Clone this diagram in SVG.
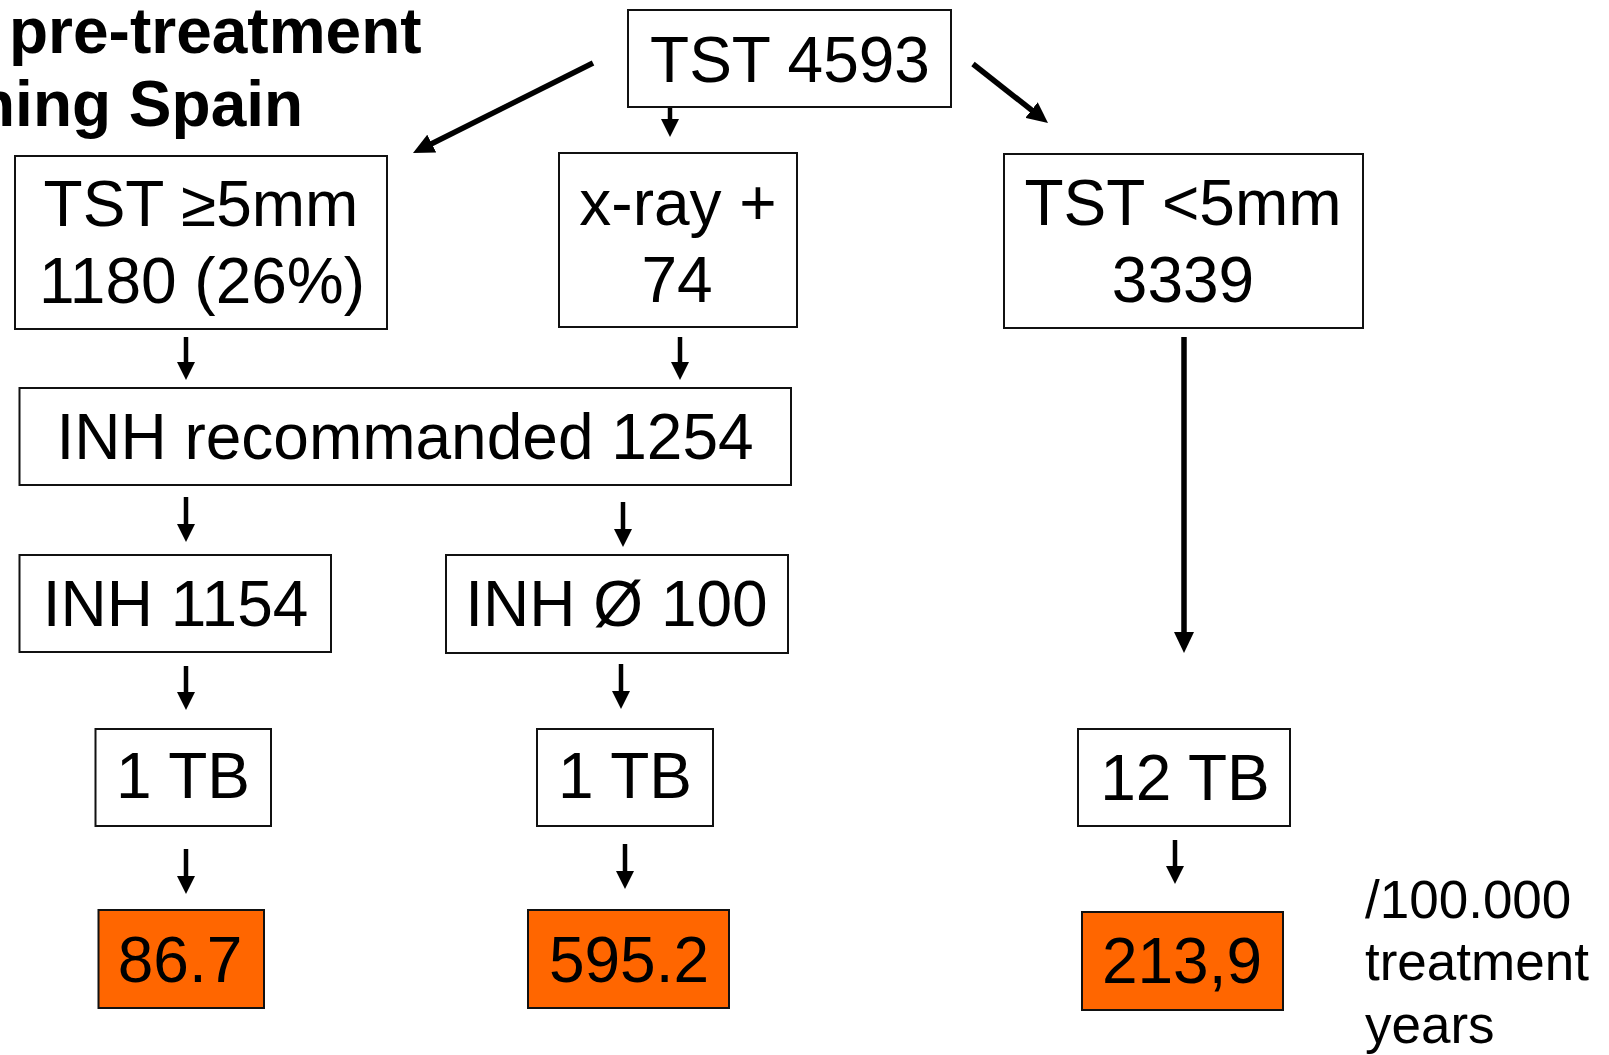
<svg xmlns="http://www.w3.org/2000/svg" width="1609" height="1055" viewBox="0 0 1609 1055">
  <style>
    .box { fill: #ffffff; stroke: #111111; stroke-width: 2; }
    .rate { fill: #ff6600; stroke: #111111; stroke-width: 2; }
    .lbl { font-family: "Liberation Sans", Arial, sans-serif; font-size: 64px; fill: #000000; text-anchor: middle; }
    .title { font-family: "Liberation Sans", Arial, sans-serif; font-size: 64px; font-weight: bold; fill: #000000; }
    .note { font-family: "Liberation Sans", Arial, sans-serif; font-size: 53px; fill: #000000; }
    .arrow { stroke: #000000; stroke-width: 4.5; fill: none; marker-end: url(#head); }
    .arrow.heavy { stroke-width: 5.5; marker-end: url(#head-lg); }
  </style>
  <defs>
    <marker id="head" markerUnits="userSpaceOnUse" markerWidth="18" markerHeight="18" refX="6" refY="9" orient="auto">
      <path d="M0,0 L18,9 L0,18 z" fill="#000000"/>
    </marker>
    <marker id="head-lg" markerUnits="userSpaceOnUse" markerWidth="21" markerHeight="20" refX="8" refY="10" orient="auto">
      <path d="M0,0 L21,10 L0,20 z" fill="#000000"/>
    </marker>
  </defs>

  <rect width="1609" height="1055" fill="#ffffff"/>

  <!-- heading, partly running off the left edge -->
  <g id="heading">
    <text class="title" x="9" y="53">pre-treatment</text>
    <text class="title" x="-24" y="126">ning Spain</text>
  </g>

  <!-- connectors -->
  <g id="connectors">
    <line class="arrow heavy" x1="593" y1="63" x2="424.6" y2="147.2"/>
    <line class="arrow" x1="670" y1="107" x2="670" y2="125"/>
    <line class="arrow heavy" x1="973" y1="64" x2="1037.8" y2="115"/>
    <line class="arrow" x1="186" y1="337" x2="186" y2="368"/>
    <line class="arrow" x1="680" y1="337" x2="680" y2="368"/>
    <line class="arrow heavy" x1="1184" y1="337" x2="1184" y2="640"/>
    <line class="arrow" x1="186" y1="497" x2="186" y2="530"/>
    <line class="arrow" x1="623" y1="502" x2="623" y2="535"/>
    <line class="arrow" x1="186" y1="666" x2="186" y2="698"/>
    <line class="arrow" x1="621" y1="664" x2="621" y2="697"/>
    <line class="arrow" x1="186" y1="849" x2="186" y2="882"/>
    <line class="arrow" x1="625" y1="844" x2="625" y2="877"/>
    <line class="arrow" x1="1175" y1="840" x2="1175" y2="872"/>
  </g>

  <g id="n-tst">
    <rect class="box" x="628" y="10" width="323" height="97"/>
    <text class="lbl" x="790" y="82">TST 4593</text>
  </g>

  <g id="n-tst-pos">
    <rect class="box" x="15" y="156" width="372" height="173"/>
    <text class="lbl" x="201" y="226">TST ≥5mm</text>
    <text class="lbl" x="202" y="303">1180 (26%)</text>
  </g>

  <g id="n-xray">
    <rect class="box" x="559" y="153" width="238" height="174"/>
    <text class="lbl" x="678" y="225">x-ray +</text>
    <text class="lbl" x="677" y="302">74</text>
  </g>

  <g id="n-tst-neg">
    <rect class="box" x="1004" y="154" width="359" height="174"/>
    <text class="lbl" x="1183" y="225">TST &lt;5mm</text>
    <text class="lbl" x="1183" y="302">3339</text>
  </g>

  <g id="n-inh-rec">
    <rect class="box" x="19.5" y="388" width="771.5" height="97"/>
    <text class="lbl" x="405" y="459">INH recommanded 1254</text>
  </g>

  <g id="n-inh">
    <rect class="box" x="19.5" y="555" width="311.5" height="97"/>
    <text class="lbl" x="175.5" y="626">INH 1154</text>
  </g>

  <g id="n-inh-none">
    <rect class="box" x="446" y="555" width="342" height="98"/>
    <text class="lbl" x="616.5" y="626">INH Ø 100</text>
  </g>

  <g id="n-tb-a">
    <rect class="box" x="95.5" y="729" width="175.5" height="97"/>
    <text class="lbl" x="183" y="798">1 TB</text>
  </g>

  <g id="n-tb-b">
    <rect class="box" x="537" y="729" width="176" height="97"/>
    <text class="lbl" x="625" y="798">1 TB</text>
  </g>

  <g id="n-tb-c">
    <rect class="box" x="1078" y="729" width="212" height="97"/>
    <text class="lbl" x="1185" y="800">12 TB</text>
  </g>

  <g id="n-rate-a">
    <rect class="rate" x="98.5" y="910" width="165.5" height="98"/>
    <text class="lbl" x="180" y="982">86.7</text>
  </g>

  <g id="n-rate-b">
    <rect class="rate" x="528" y="910" width="201" height="98"/>
    <text class="lbl" x="629" y="982">595.2</text>
  </g>

  <g id="n-rate-c">
    <rect class="rate" x="1082" y="912" width="201" height="98"/>
    <text class="lbl" x="1182" y="983">213,9</text>
  </g>

  <g id="unit-note">
    <text class="note" x="1365" y="918">/100.000</text>
    <text class="note" x="1365" y="980">treatment</text>
    <text class="note" x="1365" y="1043">years</text>
  </g>
</svg>
